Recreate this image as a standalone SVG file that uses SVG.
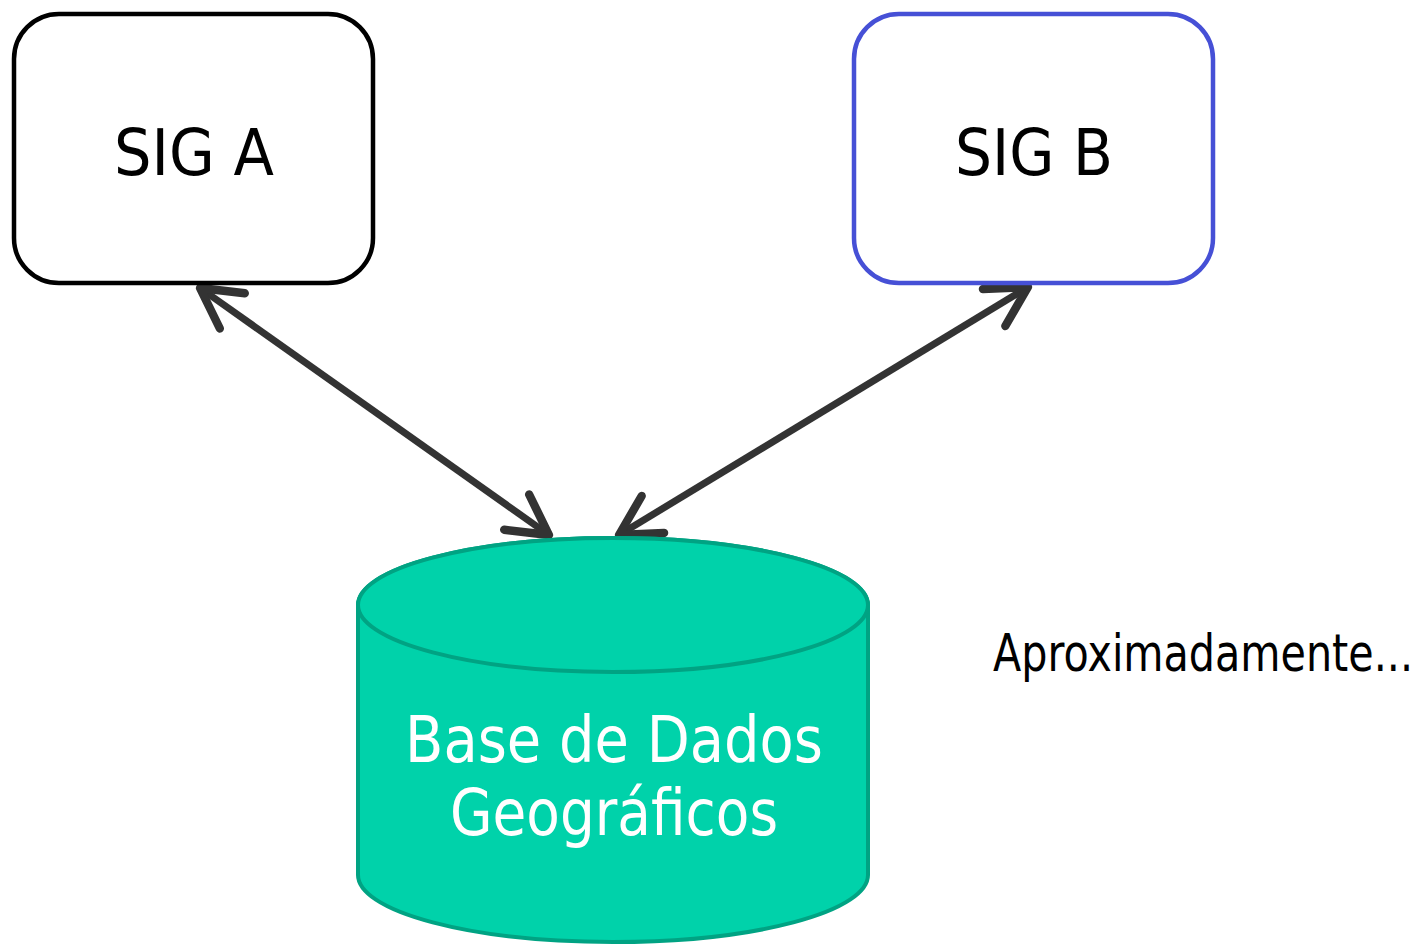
<svg xmlns="http://www.w3.org/2000/svg" width="1425" height="944" viewBox="0 0 1425 944">
<style>
.box{fill:#ffffff;stroke-width:4.5}
.lbl{font-family:"DejaVu Sans","Liberation Sans",sans-serif;font-size:64px;text-anchor:middle}
.edge{stroke:#333333;stroke-width:7;fill:none}
</style>
<defs>
<marker id="ah" markerUnits="userSpaceOnUse" markerWidth="60" markerHeight="60" viewBox="-40 -25 50 50" refX="0" refY="0" orient="auto-start-reverse" overflow="visible">
<path d="M-33,-18 L0,0 L-33,18" fill="none" stroke="#333333" stroke-width="7" stroke-linecap="round" stroke-linejoin="round"/>
</marker>
</defs>
<rect width="1425" height="944" fill="#ffffff"/>
<g id="connectors">
<line class="edge" x1="200" y1="288" x2="549" y2="535" marker-start="url(#ah)" marker-end="url(#ah)"/>
<line class="edge" x1="1028" y1="287" x2="619" y2="535" marker-start="url(#ah)" marker-end="url(#ah)"/>
</g>
<g id="sigA">
<rect class="box" x="14" y="14" width="359" height="269" rx="45" ry="45" stroke="#000000"/>
<text class="lbl" x="194" y="175" fill="#000000" textLength="160" lengthAdjust="spacingAndGlyphs">SIG A</text>
</g>
<g id="sigB">
<rect class="box" x="854" y="14" width="359" height="269" rx="45" ry="45" stroke="#4650d6"/>
<text class="lbl" x="1034" y="175" fill="#000000" textLength="158" lengthAdjust="spacingAndGlyphs">SIG B</text>
</g>
<g id="db">
<path d="M358,605 L358,875 A255,67 0 0 0 868,875 L868,605 A255,67 0 0 0 358,605 Z" fill="#00d2aa" stroke="#00a383" stroke-width="4"/>
<ellipse cx="613" cy="605" rx="255" ry="67" fill="#00d2aa" stroke="#00a383" stroke-width="4"/>
<text class="lbl" x="614" y="762" fill="#ffffff" textLength="418" lengthAdjust="spacingAndGlyphs">Base de Dados</text>
<text class="lbl" x="614" y="835" fill="#ffffff" textLength="328" lengthAdjust="spacingAndGlyphs">Geográficos</text>
</g>
<g id="note">
<text x="993" y="671" font-family="DejaVu Sans, Liberation Sans, sans-serif" font-size="51" fill="#000000" textLength="420" lengthAdjust="spacingAndGlyphs">Aproximadamente...</text>
</g>
</svg>
